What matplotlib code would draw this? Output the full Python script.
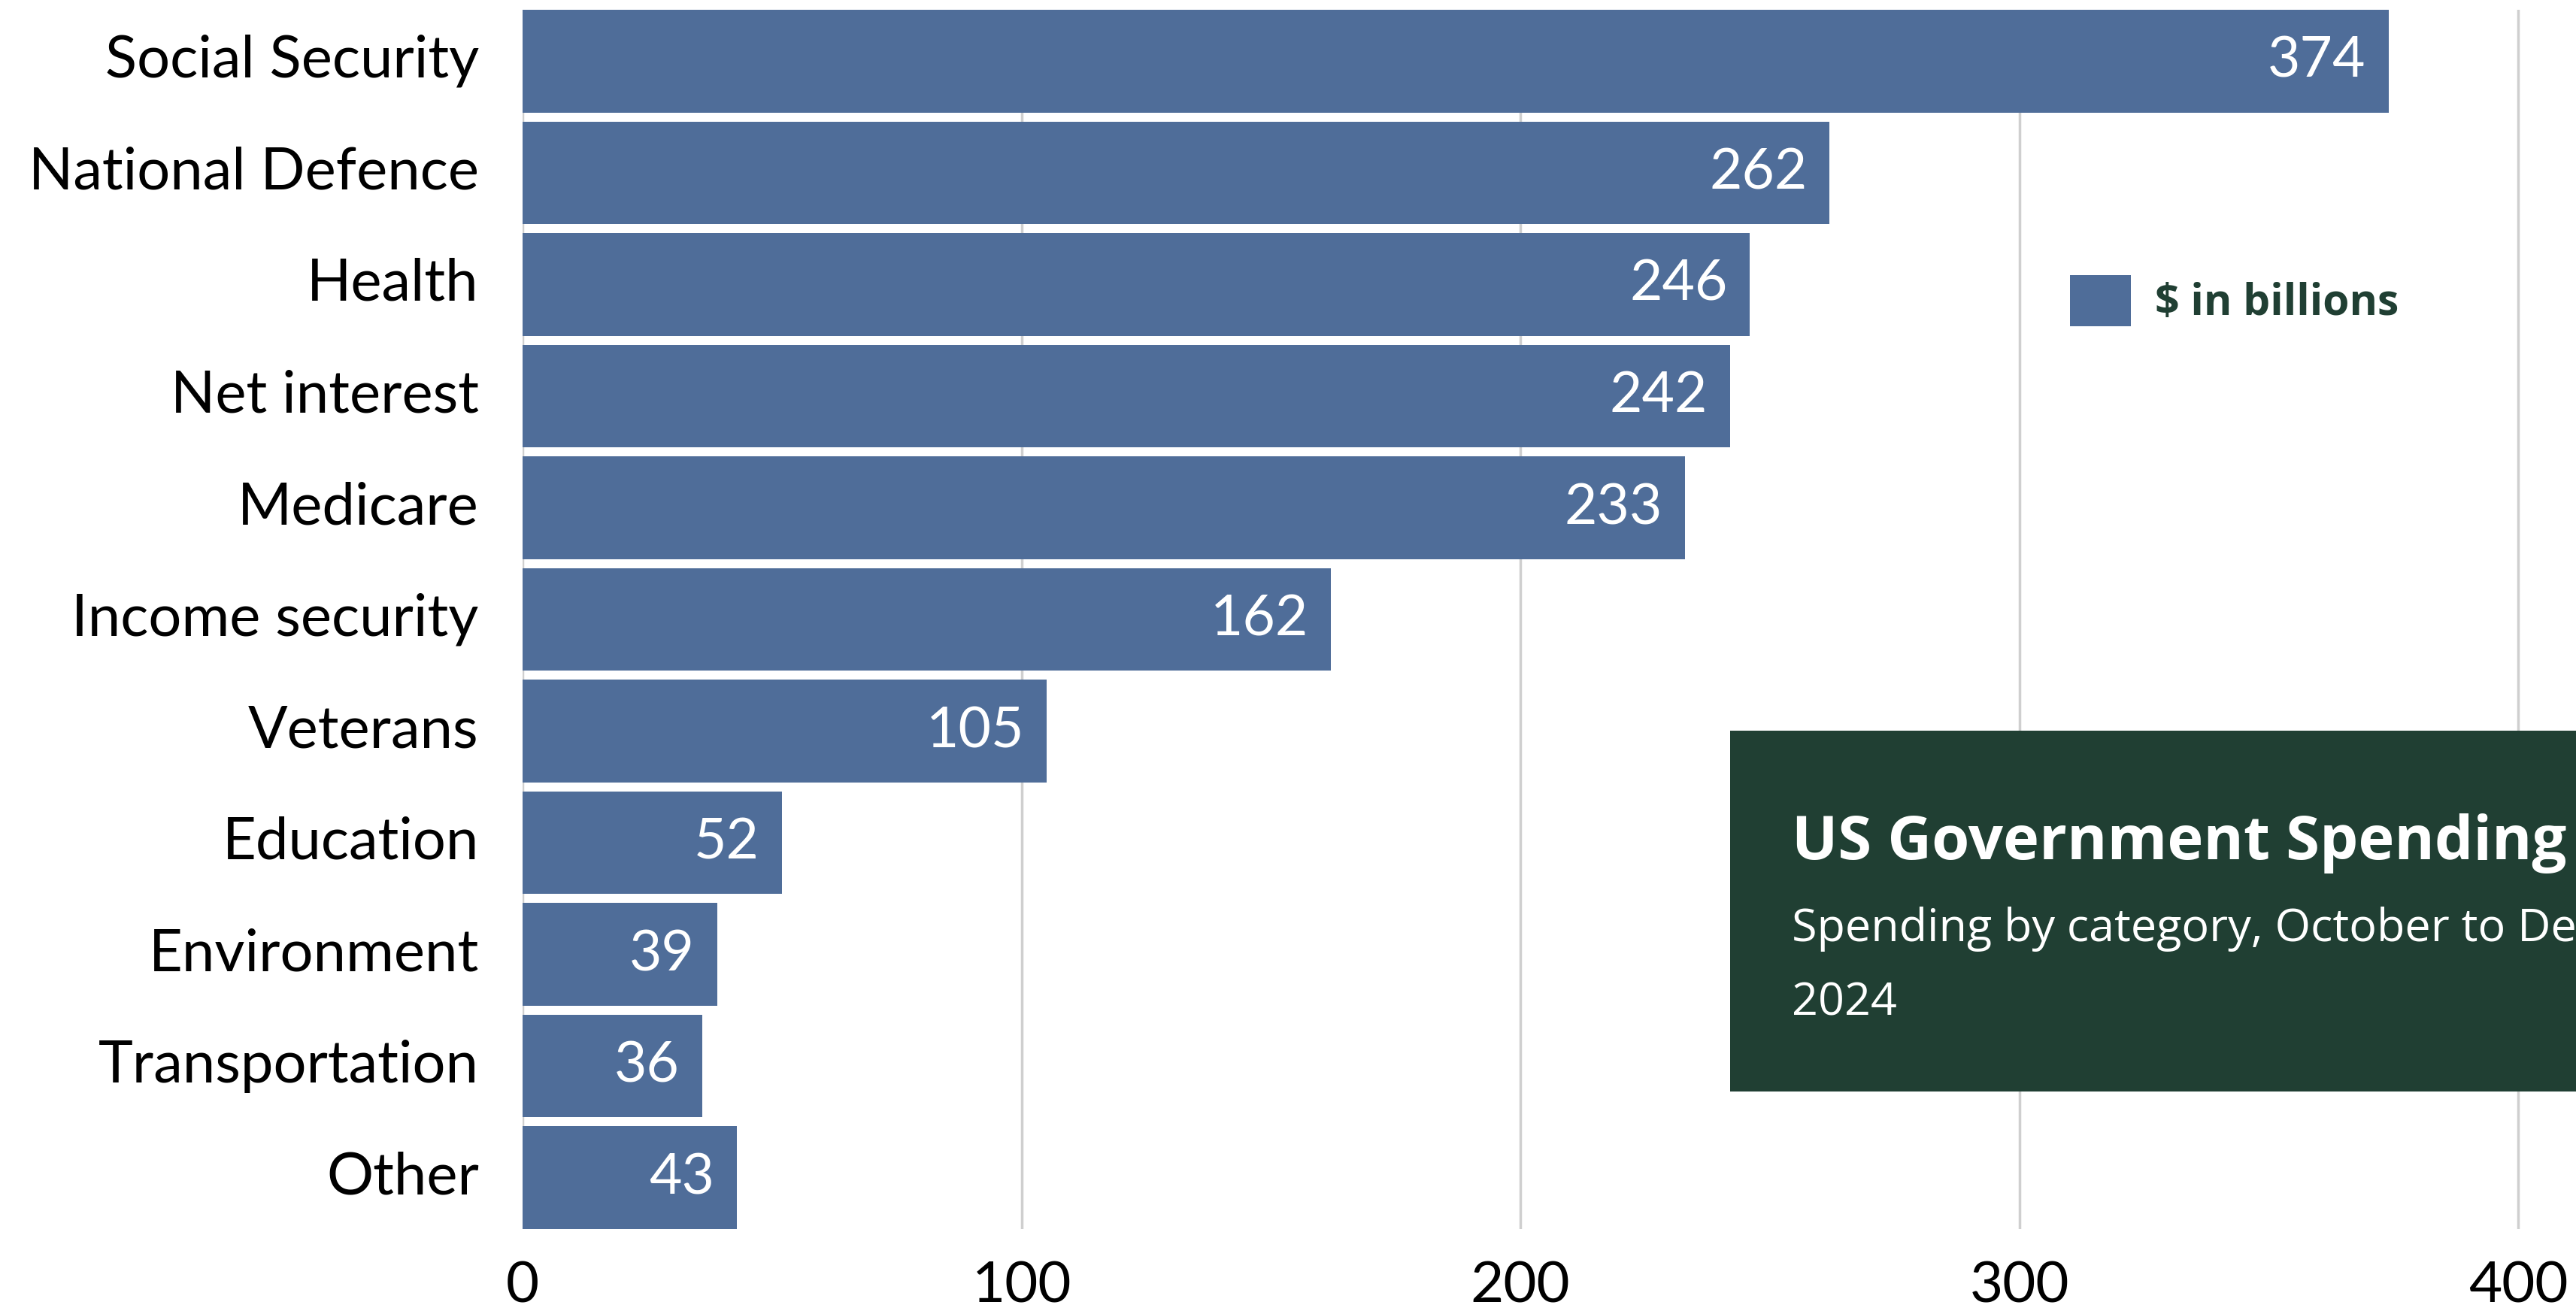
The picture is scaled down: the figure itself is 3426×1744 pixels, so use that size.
import matplotlib
matplotlib.use("Agg")
import matplotlib.pyplot as plt
from matplotlib.patches import Patch, Rectangle

# data
categories = ["Social Security", "National Defence", "Health", "Net interest", "Medicare",
              "Income security", "Veterans", "Education", "Environment", "Transportation", "Other"]
spending = [374, 262, 246, 242, 233, 162, 105, 52, 39, 36, 43]
xticks = [0, 100, 200, 300, 400]
legend_label = "$ in billions"
title = "US Government Spending"
subtitle_lines = ["Spending by category, October to December", "2024"]

bar_color = "#4F6D99"
box_color = "#203F33"
label_font = "Lato"
box_font = "Open Sans"

fig = plt.figure(figsize=(34.26, 17.44), dpi=100)
ax = fig.add_axes([0.2029, 0.0625, 0.7971, 0.93])

ypos = list(range(len(categories)))
ax.barh(ypos, spending, height=0.92, color=bar_color, zorder=2)
for y, v in zip(ypos, spending):
    ax.text(v - 4.5, y, str(v), ha="right", va="center", color="white",
            fontsize=54, family=label_font, zorder=3)

ax.set_xlim(0, 411.6)
ax.set_ylim(10.46, -0.46)
ax.set_yticks(ypos)
ax.set_yticklabels(categories, family=label_font, fontsize=56, va="center")
ax.set_xticks(xticks)
ax.set_xticklabels([str(t) for t in xticks], family=label_font, fontsize=55)
ax.tick_params(axis="y", length=0, pad=42)
ax.tick_params(axis="x", length=0, pad=30)
for s in ax.spines.values():
    s.set_visible(False)
ax.xaxis.grid(True, color="#CFCFCF", linewidth=2.5, zorder=0)
ax.set_axisbelow(True)

leg = ax.legend(handles=[Patch(facecolor=bar_color, edgecolor="none", label=legend_label)],
                loc="center left", bbox_to_anchor=(2753 / 3426, 1 - 400 / 1744),
                bbox_transform=fig.transFigure, frameon=False, borderpad=0, borderaxespad=0,
                handlelength=1.43, handleheight=1.46, handletextpad=0.56,
                prop={"family": box_font, "weight": "bold", "size": 41})
for t in leg.get_texts():
    t.set_color(box_color)

# title box
fig.add_artist(Rectangle((2301 / 3426, 1 - 1452 / 1744), 0.36, 480 / 1744,
                         transform=fig.transFigure, facecolor=box_color, edgecolor="none", zorder=5))
fig.text(2383 / 3426, 1 - 1143 / 1744, title, color="white", fontsize=58.5,
         family=box_font, weight="bold", va="baseline", ha="left", zorder=6)
fig.text(2383 / 3426, 1 - 1252 / 1744, subtitle_lines[0], color="white", fontsize=44,
         family=box_font, va="baseline", ha="left", zorder=6)
fig.text(2383 / 3426, 1 - 1350 / 1744, subtitle_lines[1], color="white", fontsize=44,
         family=box_font, va="baseline", ha="left", zorder=6)

fig.savefig("out.png", dpi=100)
